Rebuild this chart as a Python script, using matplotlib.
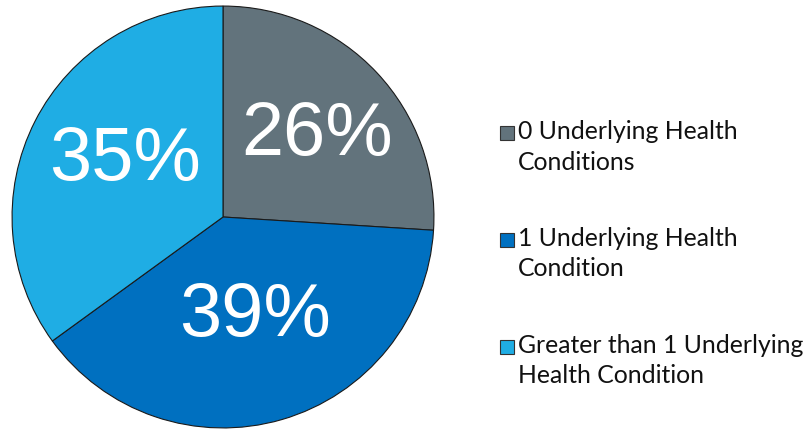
"""Pie chart — share of cases by number of underlying health conditions."""
import matplotlib
matplotlib.use("Agg")
import matplotlib.pyplot as plt
import numpy as np
from matplotlib.patches import Rectangle

labels = [
    "0 Underlying Health\nConditions",
    "1 Underlying Health\nCondition",
    "Greater than 1 Underlying\nHealth Condition",
]
shares = [26, 39, 35]
colors = ["#62737C", "#0070C0", "#1FADE4"]
# percentage label placement: fraction of radius, and angular nudge (deg)
label_dist = [0.595, 0.49, 0.537]
label_nudge = [-2.1, 1.7, -3.6]

W, H = 805, 431
fig = plt.figure(figsize=(W / 100, H / 100), dpi=100)

# pie centre (223, 218) px from top-left, radius 212 px
cx, cy, r = 223, H - 218, 212
ax = fig.add_axes([(cx - r) / W, (cy - r) / H, 2 * r / W, 2 * r / H])
wedges, _ = ax.pie(shares, colors=colors, startangle=90, counterclock=False,
                   radius=1.0,
                   wedgeprops=dict(edgecolor="#1a1a1a", linewidth=0.8))
ax.set_xlim(-1.005, 1.005)
ax.set_ylim(-1.005, 1.005)
ax.set_aspect("equal")
ax.axis("off")

for w, pct, d, nudge in zip(wedges, shares, label_dist, label_nudge):
    mid = np.deg2rad((w.theta1 + w.theta2) / 2 + nudge)
    ax.text(d * np.cos(mid), d * np.sin(mid), f"{pct}%", ha="center",
            va="center", color="white", fontsize=54.5,
            family="Liberation Sans")

# hand-drawn legend: square aligned with the first line of each label
# (multi-line text baseline is the last line, so anchor that one)
for i, (lab, col) in enumerate(zip(labels, colors)):
    first = H - (141 + 107 * i)
    fig.patches.append(Rectangle((500 / W, first / H), 14 / W, 14 / H,
                                 transform=fig.transFigure, facecolor=col,
                                 edgecolor="#333333", linewidth=0.8))
    fig.text(518 / W, (first - 28.5) / H, lab, ha="left", va="baseline",
             fontsize=17.8, family="Lato", color="#111111", linespacing=1.38)

fig.savefig("out.png", dpi=100)
